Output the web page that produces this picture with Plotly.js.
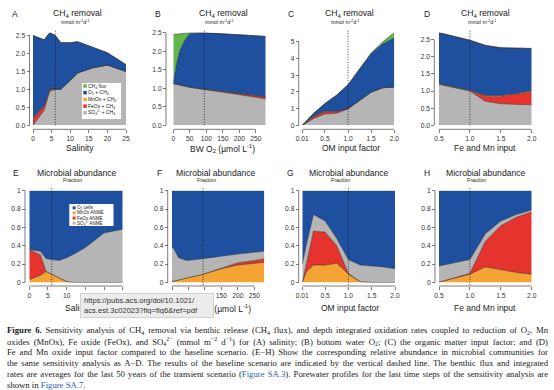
<!DOCTYPE html>
<html><head><meta charset="utf-8">
<script src="https://cdn.plot.ly/plotly-3.0.1.min.js"></script>
<style>html,body{margin:0;padding:0;background:#fff}#chart{width:554px;height:390px}</style>
</head><body><div id="chart"></div>
<script>
// ---------------- DATA ----------------
// A: CH4 removal vs salinity (mmol m-2 d-1)
const salinity  = [0, 3, 4.5, 6, 7.5, 10, 12, 16, 20, 25];
const remA_so4  = [0.00, 0.42, 0.95, 1.00, 1.00, 1.25, 1.46, 1.60, 1.68, 1.50];
const remA_feox = [0.18, 0.13, 0.05, 0.02, 0.01, 0, 0, 0, 0, 0];
const remA_mnox = [0.02, 0.01, 0.01, 0, 0, 0, 0, 0, 0, 0];
const remA_o2   = [2.30, 1.82, 1.57, 1.48, 1.29, 1.05, 0.87, 0.58, 0.34, 0.19];
const remA_ch4  = [0, 0, 0, 0, 0, 0, 0, 0, 0, 0];
// B: CH4 removal vs bottom water O2
const bwO2      = [0, 10, 20, 35, 50, 94, 150, 200, 250, 280];
const remB_so4  = [1.13, 1.11, 1.09, 1.06, 1.03, 0.97, 0.90, 0.83, 0.76, 0.71];
const remB_feox = [0, 0, 0, 0, 0, 0.005, 0.02, 0.035, 0.045, 0.05];
const remB_mnox = [0.005, 0.005, 0.005, 0.005, 0.005, 0.005, 0.005, 0.005, 0.005, 0.005];
const remB_o2   = [0.02, 0.56, 0.94, 1.24, 1.45, 1.52, 1.55, 1.58, 1.61, 1.64];
const remB_ch4  = [1.30, 0.79, 0.44, 0.18, 0.02, 0, 0, 0, 0, 0];
// C: CH4 removal vs OM input factor
const omFactor  = [0.01, 0.25, 0.5, 0.75, 1.0, 1.25, 1.5, 1.75, 2.0];
const remC_so4  = [0.00, 0.40, 0.68, 0.72, 0.98, 1.50, 1.99, 2.25, 2.30];
const remC_feox = [0.00, 0.10, 0.14, 0.10, 0.02, 0.01, 0, 0, 0];
const remC_mnox = [0.00, 0.03, 0.03, 0.02, 0.01, 0, 0, 0, 0];
const remC_o2   = [0.00, 0.17, 0.45, 0.96, 1.42, 1.88, 2.31, 2.63, 2.95];
const remC_ch4  = [0, 0, 0, 0, 0, 0.01, 0.03, 0.12, 0.30];
// D: CH4 removal vs Fe and Mn input
const feMnInput = [0.5, 1.0, 1.25, 1.5, 1.75, 2.0];
const remD_so4  = [1.20, 1.00, 0.70, 0.63, 0.61, 0.60];
const remD_feox = [0.00, 0.01, 0.15, 0.22, 0.30, 0.38];
const remD_mnox = [0.01, 0.01, 0.02, 0.02, 0.02, 0.03];
const remD_o2   = [1.49, 1.46, 1.46, 1.39, 1.32, 1.23];
const remD_ch4  = [0, 0, 0, 0, 0, 0];
// E: microbial abundance vs salinity (fraction)
const salinityE = [0, 3, 4.5, 6, 8, 10, 12, 15, 20, 25];
const abE_mnox  = [0.03, 0.08, 0.12, 0.09, 0.05, 0.01, 0, 0, 0, 0];
const abE_feox  = [0.33, 0.22, 0, 0, 0, 0, 0, 0, 0, 0];
const abE_so4   = [0.00, 0.04, 0.14, 0.16, 0.19, 0.26, 0.31, 0.38, 0.54, 0.58];
const abE_o2    = [0.64, 0.66, 0.74, 0.75, 0.76, 0.73, 0.69, 0.62, 0.46, 0.42];
// F: microbial abundance vs bottom water O2
const bwO2F     = [0, 5, 20, 45, 94, 150, 200, 250, 280];
const abF_mnox  = [0.01, 0.015, 0.03, 0.05, 0.09, 0.15, 0.19, 0.21, 0.22];
const abF_feox  = [0, 0, 0, 0, 0, 0.01, 0.025, 0.03, 0.04];
const abF_so4   = [0.37, 0.355, 0.24, 0.19, 0.17, 0.13, 0.095, 0.09, 0.08];
const abF_o2    = [0.62, 0.63, 0.73, 0.76, 0.74, 0.71, 0.69, 0.67, 0.66];
// G: microbial abundance vs OM input factor
const omFactorG = [0.01, 0.1, 0.25, 0.5, 0.75, 1.0, 1.25, 1.5, 1.75, 2.0];
const abG_mnox  = [0.00, 0.12, 0.19, 0.19, 0.21, 0.09, 0.01, 0, 0, 0];
const abG_feox  = [0.00, 0.10, 0.37, 0.36, 0.19, 0.01, 0, 0, 0, 0];
const abG_so4   = [0.20, 0.20, 0.18, 0.12, 0.08, 0.15, 0.18, 0.18, 0.17, 0.15];
const abG_o2    = [0.80, 0.58, 0.26, 0.33, 0.52, 0.75, 0.81, 0.82, 0.83, 0.85];
// H: microbial abundance vs Fe and Mn input
const feMnH     = [0.5, 1.0, 1.25, 1.5, 1.75, 2.0];
const abH_mnox  = [0.005, 0.09, 0.17, 0.14, 0.11, 0.09];
const abH_feox  = [0, 0.01, 0.28, 0.48, 0.60, 0.68];
const abH_so4   = [0.175, 0.15, 0.08, 0.05, 0.03, 0.02];
const abH_o2    = [0.82, 0.75, 0.47, 0.33, 0.26, 0.21];

// baseline scenario values (vertical dashed lines)
const baseSalinity = 6, baseO2 = 94, baseOM = 1.0, baseFeMn = 1.0;

// tick labels
const salTicks = [0, 5, 10, 15, 20, 25];
const salTickText = ['0', '5', '10', '15', '20', '25'];
const o2Ticks = [0, 50, 100, 150, 200, 250];
const o2TickText = ['0', '50', '100', '150', '200', '250'];
const omTicks = [0.01, 0.5, 1.0, 1.5, 2.0];
const omTickText = ['0.01', '0.5', '1.0', '1.5', '2.0'];
const feTicks = [0.5, 1.0, 1.5, 2.0];
const feTickText = ['0.5', '1.0', '1.5', '2.0'];
const remTicks = [0, 0.5, 1, 1.5, 2, 2.5];
const remTickText = ['0.0', '0.5', '1.0', '1.5', '2.0', '2.5'];
const omRemTicks = [0, 1, 2, 3, 4, 5];
const omRemTickText = ['0', '1', '2', '3', '4', '5'];
const fracTicks = [0, 0.2, 0.4, 0.6, 0.8, 1];
const fracTickText = ['0', '0.2', '0.4', '0.6', '0.8', '1'];

// text
const removalLegend = ['CH<sub>4</sub> flux', 'O<sub>2</sub> + CH<sub>4</sub>', 'MnOx + CH<sub>4</sub>', 'FeOx + CH<sub>4</sub>', 'SO<sub>4</sub><sup>2-</sup> + CH<sub>4</sub>'];
const abundLegend = ['O<sub>2</sub> cells', 'MnOx ANME', 'FeOx ANME', 'SO<sub>4</sub><sup>2-</sup> ANME'];
const captionLines = [
  "<b>Figure 6.</b> Sensitivity analysis of CH<sub>4</sub> removal via benthic release (CH<sub>4</sub> flux), and depth integrated oxidation rates coupled to reduction of O<sub>2</sub>, Mn",
  "oxides (MnOx), Fe oxide (FeOx), and SO<sub>4</sub><sup>2−</sup> (mmol m<sup>−2</sup> d<sup>−1</sup>) for (A) salinity; (B) bottom water O<sub>2</sub>; (C) the organic matter input factor; and (D)",
  "Fe and Mn oxide input factor compared to the baseline scenario. (E−H) Show the corresponding relative abundance in microbial communities for",
  "the same sensitivity analysis as A−D. The results of the baseline scenario are indicated by the vertical dashed line. The benthic flux and integrated",
  "rates are averages for the last 50 years of the transient scenario (<span style='color:#2a62b8'>Figure SA.3</span>). Porewater profiles for the last time steps of the sensitivity analysis are",
  "shown in <span style='color:#2a62b8'>Figure SA.7</span>."
];

// ---------------- STYLE ----------------
const W = 554, H = 390;
const GREEN = '#62b84f', BLUE = '#1f4f9f', ORANGE = '#f4a432', RED = '#e5332e', GREY = '#b5b5b5';
const EDGE = '#2b2b2b';
const SANS = 'Liberation Sans, Arial, sans-serif';
const SERIF = 'Liberation Serif, Times New Roman, serif';
const px = v => v / W;
const py = v => 1 - v / H;

const panels = [
  {L:'A', x:salinity, layers:[[remA_so4,GREY],[remA_feox,RED],[remA_mnox,ORANGE],[remA_o2,BLUE],[remA_ch4,GREEN]],
   xd:[33,126], yd:[32.5,125.3], xpos:129.3, ypos:29.5, xr:[0,25], xt:salTicks, xtt:salTickText, yt:remTicks, ytt:remTickText, base:baseSalinity,
   title:'CH<sub>4</sub> removal', tc:77, sub:'mmol m<sup>-2</sup>d<sup>-1</sup>', sc:75, xtitle:'Salinity', xc:80},
  {L:'B', x:bwO2, layers:[[remB_so4,GREY],[remB_feox,RED],[remB_mnox,ORANGE],[remB_o2,BLUE],[remB_ch4,GREEN]],
   xd:[173.3,265.7], yd:[32.5,125.3], xpos:129.3, ypos:166, xr:[0,280], xt:o2Ticks, xtt:o2TickText, yt:remTicks, ytt:remTickText, base:baseO2,
   title:'CH<sub>4</sub> removal', tc:223, sub:'mmol m<sup>-2</sup>d<sup>-1</sup>', sc:219, xtitle:'BW O<sub>2</sub> (µmol L<sup>-1</sup>)', xc:222},
  {L:'C', x:omFactor, layers:[[remC_so4,GREY],[remC_feox,RED],[remC_mnox,ORANGE],[remC_o2,BLUE],[remC_ch4,GREEN]],
   xd:[302.3,394.3], yd:[32.5,125.3], xpos:129.3, ypos:298.7, xr:[0.01,2.0], xt:omTicks, xtt:omTickText, yt:omRemTicks, ytt:omRemTickText, base:baseOM,
   title:'CH<sub>4</sub> removal', tc:349, sub:'mmol m<sup>-2</sup>d<sup>-1</sup>', sc:345, xtitle:'OM input factor', xc:351},
  {L:'D', x:feMnInput, layers:[[remD_so4,GREY],[remD_feox,RED],[remD_mnox,ORANGE],[remD_o2,BLUE],[remD_ch4,GREEN]],
   xd:[439,531.7], yd:[32.5,125.3], xpos:129.3, ypos:434.3, xr:[0.5,2.0], xt:feTicks, xtt:feTickText, yt:remTicks, ytt:remTickText, base:baseFeMn,
   title:'CH<sub>4</sub> removal', tc:485.7, sub:'mmol m<sup>-2</sup>d<sup>-1</sup>', sc:482, xtitle:'Fe and Mn input', xc:485},
  {L:'E', x:salinityE, layers:[[abE_mnox,ORANGE],[abE_feox,RED],[abE_so4,GREY],[abE_o2,BLUE]],
   xd:[29.3,122.7], yd:[190.7,282.5], xpos:286, ypos:25, xr:[0,25], xt:salTicks, xtt:salTickText, yt:fracTicks, ytt:fracTickText, base:baseSalinity, frac:true,
   title:'Microbial abundance', tc:77.3, sub:'Fraction', sc:72.5, xtitle:'Salinity', xc:79},
  {L:'F', x:bwO2F, layers:[[abF_mnox,ORANGE],[abF_feox,RED],[abF_so4,GREY],[abF_o2,BLUE]],
   xd:[172,264.3], yd:[190.7,282.5], xpos:286, ypos:167.7, xr:[0,280], xt:o2Ticks, xtt:o2TickText, yt:fracTicks, ytt:fracTickText, base:baseO2, frac:true,
   title:'Microbial abundance', tc:216, sub:'Fraction', sc:206.3, xtitle:'BW O<sub>2</sub> (µmol L<sup>-1</sup>)', xc:218},
  {L:'G', x:omFactorG, layers:[[abG_mnox,ORANGE],[abG_feox,RED],[abG_so4,GREY],[abG_o2,BLUE]],
   xd:[302.3,395], yd:[190.7,282.5], xpos:286, ypos:298.7, xr:[0.01,2.0], xt:omTicks, xtt:omTickText, yt:fracTicks, ytt:fracTickText, base:baseOM, frac:true,
   title:'Microbial abundance', tc:349, sub:'Fraction', sc:340.7, xtitle:'OM input factor', xc:350},
  {L:'H', x:feMnH, layers:[[abH_mnox,ORANGE],[abH_feox,RED],[abH_so4,GREY],[abH_o2,BLUE]],
   xd:[439,531.7], yd:[190.7,282.5], xpos:286, ypos:435, xr:[0.5,2.0], xt:feTicks, xtt:feTickText, yt:fracTicks, ytt:fracTickText, base:baseFeMn, frac:true,
   title:'Microbial abundance', tc:485.7, sub:'Fraction', sc:476, xtitle:'Fe and Mn input', xc:485}
];

const traces = [];
const shapes = [];
const annotations = [];
const layout = {
  width: W, height: H, autosize: false,
  margin: {l:0, r:0, t:0, b:0, pad:0},
  paper_bgcolor: '#fff', plot_bgcolor: 'rgba(0,0,0,0)',
  showlegend: false, font: {family: SANS, color: '#222'},
  hovermode: false
};

function ann(text, x, y, size, extra) {
  return Object.assign({xref:'paper', yref:'paper', x:px(x), y:py(y), text:text, showarrow:false,
    font:{size:size, family:SANS, color:'#1a1a1a'}, xanchor:'center', yanchor:'middle', borderpad:0, borderwidth:0}, extra || {});
}

panels.forEach((p, i) => {
  const n = i + 1;
  const xa = n === 1 ? 'x' : 'x' + n, ya = n === 1 ? 'y' : 'y' + n;
  const xk = n === 1 ? 'xaxis' : 'xaxis' + n, yk = n === 1 ? 'yaxis' : 'yaxis' + n;
  p.layers.forEach(([vals, col]) => {
    traces.push({type:'scatter', mode:'lines', x:p.x, y:vals, xaxis:xa, yaxis:ya, stackgroup:'s' + p.L,
      fillcolor:col, line:{color:EDGE, width:0.5}, hoverinfo:'skip'});
  });
  let ymax = 1;
  if (!p.frac) {
    ymax = 0;
    p.x.forEach((_, k) => { let s = 0; p.layers.forEach(l => s += l[0][k]); ymax = Math.max(ymax, s); });
    ymax *= 1.002;
  }
  const common = {ticks:'outside', ticklen:3, tickwidth:0.7, tickcolor:'#444', showline:false, showgrid:false,
    zeroline:false, fixedrange:true, tickfont:{size:6.7, color:'#333', family:SANS}, tickmode:'array'};
  layout[xk] = Object.assign({}, common, {domain:[px(p.xd[0]), px(p.xd[1])], range:p.xr, anchor:'free',
    position:py(p.xpos), tickvals:p.xt, ticktext:p.xtt});
  layout[yk] = Object.assign({}, common, {domain:[py(p.yd[1]), py(p.yd[0])], range:[0, ymax], anchor:'free',
    position:px(p.ypos), tickvals:p.yt, ticktext:p.ytt});
  // R-style axis lines spanning first to last tick
  shapes.push({type:'line', xref:'paper', yref:ya, x0:px(p.ypos), x1:px(p.ypos), y0:p.yt[0], y1:p.yt[p.yt.length-1],
    line:{color:'#444', width:0.7}});
  shapes.push({type:'line', xref:xa, yref:'paper', x0:p.xt[0], x1:p.xt[p.xt.length-1], y0:py(p.xpos), y1:py(p.xpos),
    line:{color:'#444', width:0.7}});
  // baseline dashed line
  shapes.push({type:'line', xref:xa, yref:ya + ' domain', x0:p.base, x1:p.base, y0:p.frac ? -0.03 : 0, y1:1.03,
    line:{color:'#1a1a1a', width:0.8, dash:'1px,1.6px'}});
  // texts
  const ty = p.frac ? 172.7 : 14, sy = p.frac ? 179.6 : 22, xty = p.frac ? 308 : 148;
  const lx = {A:15, B:158, C:291, D:427, E:15.7, F:159, G:290.7, H:427.3}[p.L];
  annotations.push(ann(p.L, lx, ty, 8.5));
  annotations.push(ann(p.title, p.tc, ty, 8.6));
  annotations.push(ann(p.sub, p.sc, sy, 5.3));
  annotations.push(ann(p.xtitle, p.xc, xty, 8.5));
});

// legend A (drawn manually, R style)
shapes.push({type:'rect', xref:'paper', yref:'paper', x0:px(81.5), x1:px(121.5), y0:py(82.5), y1:py(119.5),
  fillcolor:'#fff', line:{color:'#9a9a9a', width:0.5}, layer:'above'});
[GREEN, BLUE, ORANGE, RED, GREY].forEach((c, k) => {
  const yc = 86 + k * 6.7;
  shapes.push({type:'rect', xref:'paper', yref:'paper', x0:px(83.3), x1:px(86.8), y0:py(yc + 1.75), y1:py(yc - 1.75),
    fillcolor:c, line:{width:0}, layer:'above'});
  annotations.push(ann(removalLegend[k], 88.3, yc, 5, {xanchor:'left'}));
});
// legend E
shapes.push({type:'rect', xref:'paper', yref:'paper', x0:px(69.3), x1:px(113.5), y0:py(204), y1:py(226),
  fillcolor:'#fff', line:{width:0}, layer:'above'});
[BLUE, ORANGE, RED, GREY].forEach((c, k) => {
  const yc = 207.8 + k * 5.1;
  shapes.push({type:'rect', xref:'paper', yref:'paper', x0:px(72.6), x1:px(75.6), y0:py(yc + 1.5), y1:py(yc - 1.5),
    fillcolor:c, line:{width:0}, layer:'above'});
  annotations.push(ann(abundLegend[k], 77, yc, 4.6, {xanchor:'left'}));
});

// caption
const capStart = annotations.length;
const capY = [330, 341.3, 352.2, 363.2, 374, 384.6];
captionLines.forEach((t, k) => {
  annotations.push(ann(t, 6.5, capY[k], 8.7, {xanchor:'left', align:'left', font:{size:8.7, family:SERIF, color:'#1a1a1a'}}));
});

// browser tooltip overlay
annotations.push(ann('https://pubs.acs.org/doi/10.1021/<br>acs.est.3c02023?fig=fig6&ref=pdf', 79.5, 292.5, 7.6,
  {xanchor:'left', yanchor:'top', align:'left', bgcolor:'#ececec', bordercolor:'#d2d2d2', borderwidth:1, borderpad:3,
   width:126, height:17, font:{size:7.6, family:SANS, color:'#333'}}));

layout.shapes = shapes;
layout.annotations = annotations;

Plotly.newPlot('chart', traces, layout, {staticPlot:true, displayModeBar:false}).then(gd => {
  const box = gd.getBoundingClientRect();
  for (let k = 0; k < 5; k++) {
    const g = gd.querySelector('g.annotation[data-index="' + (capStart + k) + '"] text.annotation-text');
    if (!g) continue;
    try {
      const w = g.getComputedTextLength();
      const left = g.getBoundingClientRect().left - box.left;
      const spaces = (g.textContent.match(/[ \u00A0]/g) || []).length;
      if (spaces && w) g.style.wordSpacing = ((548 - left - w) / spaces).toFixed(3) + 'px';
    } catch (e) {}
  }
});
</script></body></html>
